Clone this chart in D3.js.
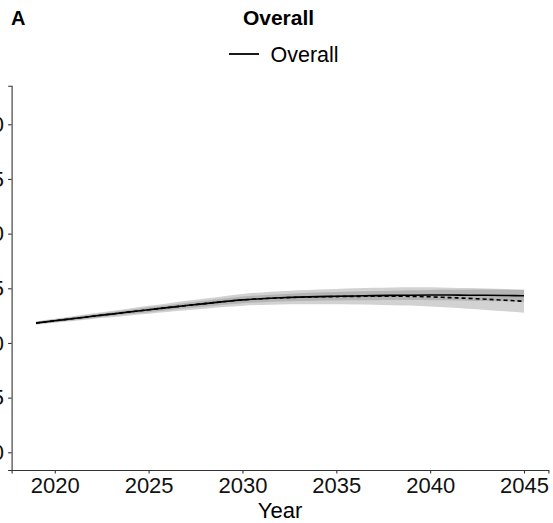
<!DOCTYPE html>
<html>
    <head>
        <script src="https://cdn.jsdelivr.net/npm/d3@7"></script>
        <style>
            body { margin: 0; background: #fff; }
            text { font-family: "Liberation Sans", Arial, sans-serif; }
        </style>
    </head>
    <body>
        <div id="viz"></div>
        <script>
            // data
            const years = d3.range(2019, 2046);
            const overall = [0.1182, 0.1203, 0.1223, 0.1244, 0.1264, 0.1284, 0.1304, 0.1323, 0.1342, 0.1360,
                             0.1378, 0.1394, 0.1405, 0.1413, 0.1419, 0.1424, 0.1427, 0.1430, 0.1433, 0.1435,
                             0.1437, 0.1438, 0.1438, 0.1437, 0.1436, 0.1434, 0.1432];
            const projected = [0.1182, 0.1203, 0.1223, 0.1244, 0.1264, 0.1284, 0.1304, 0.1323, 0.1342, 0.1360,
                               0.1378, 0.1394, 0.1405, 0.1412, 0.1418, 0.1422, 0.1424, 0.1426, 0.1427, 0.1427,
                               0.1426, 0.1422, 0.1415, 0.1408, 0.1400, 0.1391, 0.1381];
            // half widths of the two grey ribbons
            const overallSpread = [0.0012, 0.0013, 0.0015, 0.0017, 0.0018, 0.0020, 0.0022, 0.0023, 0.0025, 0.0027,
                                   0.0028, 0.0030, 0.0032, 0.0033, 0.0035, 0.0037, 0.0038, 0.0040, 0.0042, 0.0043,
                                   0.0045, 0.0047, 0.0048, 0.0050, 0.0052, 0.0053, 0.0055];
            const projectedSpread = [0.0015, 0.0018, 0.0022, 0.0025, 0.0029, 0.0032, 0.0036, 0.0039, 0.0043, 0.0046,
                                     0.0050, 0.0053, 0.0057, 0.0060, 0.0063, 0.0067, 0.0070, 0.0074, 0.0077, 0.0081,
                                     0.0084, 0.0088, 0.0091, 0.0095, 0.0098, 0.0102, 0.0105];
            const xTicks = [2020, 2025, 2030, 2035, 2040, 2045];
            const yTicks = [0, 0.05, 0.10, 0.15, 0.20, 0.25, 0.30];

            const W = 553, H = 523;
            const svg = d3.select("#viz").append("svg")
                .attr("width", W)
                .attr("height", H);

            const x = d3.scaleLinear().domain([2017.7, 2046.3]).range([11.6, 548.4]);
            const y = d3.scaleLinear().domain([-0.0162, 0.3353]).range([470, 85.7]);

            const rows = years.map((yr, i) => ({
                year: yr,
                overall: overall[i],
                projected: projected[i],
                oLo: overall[i] - overallSpread[i], oHi: overall[i] + overallSpread[i],
                pLo: projected[i] - projectedSpread[i], pHi: projected[i] + projectedSpread[i]
            }));

            // ribbons
            const band = (lo, hi) => d3.area()
                .x(d => x(d.year))
                .y0(d => y(d[lo]))
                .y1(d => y(d[hi]))
                .curve(d3.curveMonotoneX);

            svg.append("path").datum(rows)
                .attr("d", band("pLo", "pHi"))
                .attr("fill", "#7f7f7f").attr("opacity", 0.35);
            svg.append("path").datum(rows)
                .attr("d", band("oLo", "oHi"))
                .attr("fill", "#7f7f7f").attr("opacity", 0.35);

            const line = key => d3.line()
                .x(d => x(d.year))
                .y(d => y(d[key]))
                .curve(d3.curveMonotoneX);

            svg.append("path").datum(rows)
                .attr("d", line("projected"))
                .attr("fill", "none").attr("stroke", "#000")
                .attr("stroke-width", 1.6).attr("stroke-dasharray", "4,3");
            svg.append("path").datum(rows)
                .attr("d", line("overall"))
                .attr("fill", "none").attr("stroke", "#000")
                .attr("stroke-width", 1.6);

            // axes
            const xAxis = svg.append("g")
                .attr("transform", "translate(0," + 470 + ")")
                .call(d3.axisBottom(x).tickValues(xTicks).tickFormat(d3.format("d"))
                    .tickSizeOuter(0).tickSize(3.5).tickPadding(4));
            const yAxis = svg.append("g")
                .attr("transform", "translate(" + 11.6 + ",0)")
                .call(d3.axisLeft(y).tickValues(yTicks).tickFormat(d3.format(".2f"))
                    .tickSizeOuter(0).tickSize(3.5).tickPadding(4));

            [xAxis, yAxis].forEach(g => {
                g.select(".domain").attr("stroke", "#333").attr("stroke-width", 1.1);
                g.selectAll(".tick line").attr("stroke", "#333").attr("stroke-width", 1.1);
                g.selectAll(".tick text")
                    .attr("fill", "#111")
                    .style("font-size", "22px")
                    .style("font-family", "'Liberation Sans', Arial, sans-serif");
            });

            // labels
            svg.append("text")
                .attr("x", 280).attr("y", 518)
                .attr("text-anchor", "middle")
                .style("font-size", "22px")
                .text("Year");

            svg.append("text")
                .attr("x", 11).attr("y", 25)
                .style("font-size", "20px").style("font-weight", "bold")
                .text("A");

            svg.append("text")
                .attr("x", 278.5).attr("y", 25)
                .attr("text-anchor", "middle")
                .style("font-size", "21px").style("font-weight", "bold")
                .text("Overall");

            // legend
            const legend = svg.append("g");
            legend.append("line")
                .attr("x1", 229).attr("x2", 259)
                .attr("y1", 54).attr("y2", 54)
                .attr("stroke", "#000").attr("stroke-width", 1.8);
            legend.append("text")
                .attr("x", 270.5).attr("y", 62)
                .style("font-size", "21.5px")
                .text("Overall");
        </script>
    </body>
</html>
